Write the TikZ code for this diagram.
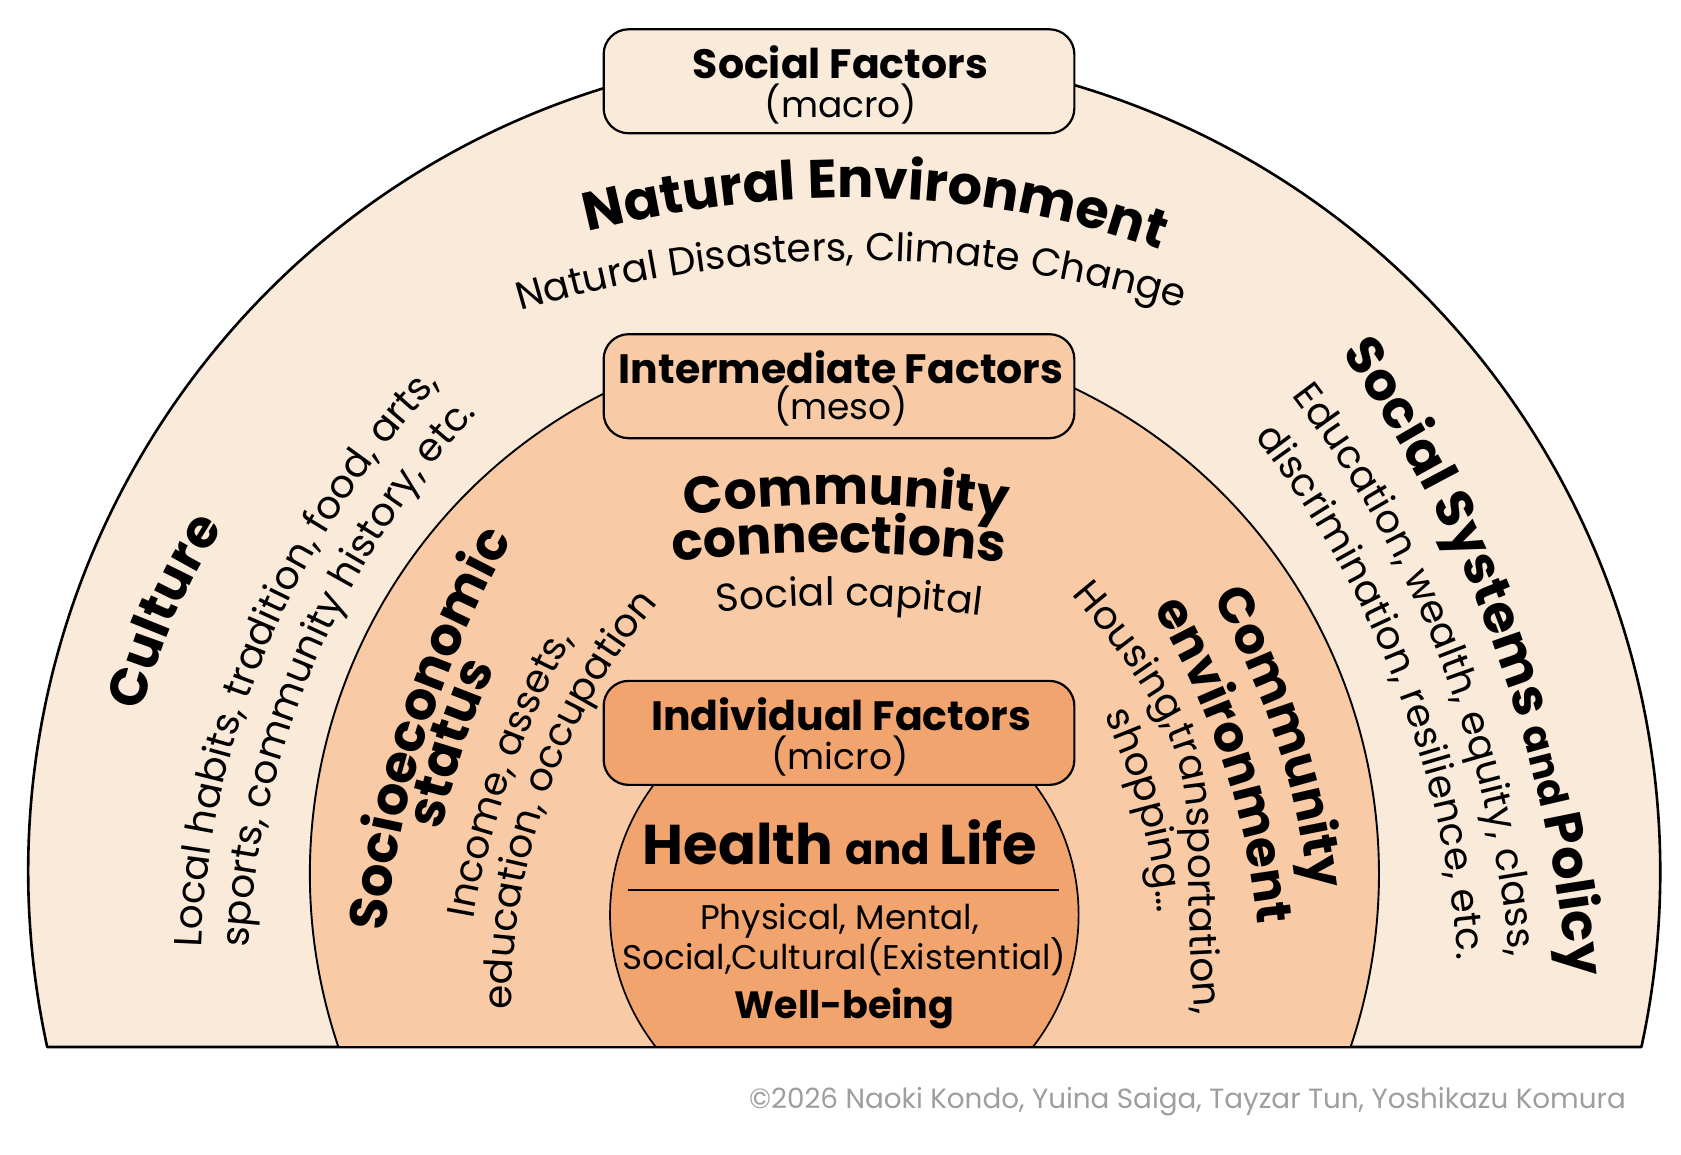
\documentclass[tikz,border=0pt]{standalone}
\usepackage{fontspec}
\setmainfont{Poppins}
\usetikzlibrary{decorations.text,calc}
\definecolor{cOut}{RGB}{250,234,218}
\definecolor{cMid}{RGB}{248,203,166}
\definecolor{cIn}{RGB}{242,164,110}
\definecolor{cGray}{RGB}{158,158,158}
\newcommand\FtHead{\fontsize{52.5}{62}\selectfont\bfseries}
\newcommand\FtNE{\fontsize{54}{64}\selectfont\bfseries}
\newcommand\FtCE{\fontsize{50}{60}\selectfont\bfseries}
\newcommand\FtCC{\fontsize{52}{62}\selectfont\bfseries}
\newcommand\FtAnd{\fontsize{40}{48}\selectfont\bfseries}
\newcommand\FtSub{\fontsize{39}{47}\selectfont}
\newcommand\FtTitle{\fontsize{41}{50}\selectfont\bfseries}
\newcommand\FtParen{\fontsize{36}{44}\selectfont}
\newcommand\FtHealth{\fontsize{56}{66}\selectfont\bfseries}
\newcommand\FtHAnd{\fontsize{42}{50}\selectfont\bfseries}
\newcommand\FtBody{\fontsize{34.2}{42}\selectfont}
\newcommand\FtWell{\fontsize{38}{46}\selectfont\bfseries}
\newcommand\FtCopy{\fontsize{27.8}{32}\selectfont}
\newcommand\ArcText[6][0.87]{%
  \path[decorate, decoration={text along path, text align=center, text={#6}}]
    ($(#2)+(#4+180:90)$) -- (#2) to[out=#4, in=#5, looseness=#1] (#3) -- ($(#3)+(#5+180:90)$);}
\tikzset{
  fbox/.style={draw, line width=2.2pt, rounded corners=25pt, minimum width=470.7pt,
    minimum height=104pt, inner sep=0pt},
  lbl/.style={anchor=base, inner sep=0pt}
}
\begin{document}
\begin{tikzpicture}[x=1pt,y=1pt]
\useasboundingbox (0,0) rectangle (1681,1154);
\fill[white] (0,0) rectangle (1681,1154);
% nested arches
\draw[fill=cOut, line width=2.6pt, line join=round] (47.2,107) arc[start angle=192.34, end angle=-12.34, x radius=816, y radius=820] -- cycle;
\draw[fill=cMid, line width=1.9pt, line join=round] (338.4,107) arc[start angle=198.76, end angle=-18.76, x radius=534.5, y radius=538] -- cycle;
\draw[fill=cIn, line width=1.7pt, line join=round] (655.8,107) arc[start angle=216.42, end angle=-36.42, x radius=234.3, y radius=223] -- cycle;
% boxes
\node[fbox, fill=cOut] (boxS) at (839,1072.7) {};
\node[fbox, fill=cMid] (boxM) at (839,767.8) {};
\node[fbox, fill=cIn] (boxI) at (839,421.1) {};
\node[lbl, font=\FtTitle] (tS) at (840.4,1075) {Social Factors};
\node[lbl, font=\FtParen] (sS) at (841,1036.7) {(macro)};
\node[lbl, font=\FtTitle] (tM) at (841,770.7) {Intermediate Factors};
\node[lbl, font=\FtParen] (sM) at (841,734) {(meso)};
\node[lbl, font=\FtTitle] (tI) at (841,423) {Individual Factors};
\node[lbl, font=\FtParen] (sI) at (840,384) {(micro)};
% centre
\node[lbl] (hl) at (840,289) {\FtHealth Health \FtHAnd and \FtHealth Life};
\coordinate (hlA) at (627.9,264);
\coordinate (hlB) at (1059.3,264);
\draw[line width=1.2pt] (hlA) -- (hlB);
\node[lbl, font=\FtBody] (b1) at (839.5,224) {Physical, Mental,};
\node[lbl, font=\FtBody] (b2) at (844.5,184) {Social,Cultural(Existential)};
\node[lbl, font=\FtWell] (b3) at (844.5,135.7) {Well-being};
% curved texts: top
\ArcText{587.7,922.3}{1160.3,903.7}{14}{160}{|\FtNE|Natural Environment}
\ArcText{510,840}{1191.8,842}{17}{162}{|\FtSub|Natural Disasters, Climate Change}
\ArcText{683.2,638}{1010,637.3}{8}{172}{|\FtCC|Community}
\ArcText{670.7,592.3}{1006.4,590.7}{6.5}{173.5}{|\FtCC|connections}
\ArcText{720.7,541.3}{977.9,539}{7}{173}{|\FtSub|Social capital}
% left
\ArcText{143.2,445.9}{221.2,623.4}{75}{237}{|\FtHead|Culture}
\ArcText{201.2,206.2}{440,769.9}{88}{226}{|\FtSub|Local habits, tradition, food, arts,}
\ArcText{248.4,206.2}{477.7,741}{87}{227}{|\FtSub|sports, community history, etc.}
\ArcText{386.3,228.4}{509.6,610.1}{84}{241}{|\FtHead|Socioeconomic}
\ArcText{443,330.7}{492.2,479.4}{77}{246}{|\FtHead|status}
\ArcText{472.7,231.8}{574.3,518.1}{80}{241}{|\FtSub|Income, assets,}
\ArcText{511.6,149.7}{655,547}{90}{230}{|\FtSub|education, occupation}
% right
\ArcText{1340.4,802.4}{1567.9,175.7}{-55}{95}{|\FtHead|Social Systems |\FtAnd|and |\FtHead|Policy}
\ArcText{1297.9,750.6}{1508.7,207.3}{-53}{96}{|\FtSub|Education, wealth, equity, class,}
\ArcText{1259,712.3}{1457,200.5}{-53}{94}{|\FtSub|discrimination, resilience, etc.}
\ArcText{1212.8,554.5}{1309,265.9}{-60}{97}{|\FtCE|Community}
\ArcText{1155.4,540.9}{1257.2,234.3}{-60}{96}{|\FtCE|environment}
\ArcText[1.4]{1072.2,559}{1195,139}{-50}{95}{|\FtSub|Housing,transportation,}
\ArcText{1105.5,437.2}{1157.3,243.4}{-66}{94}{|\FtSub|shopping…}
% credit
\node[anchor=base east, inner sep=0pt, text=cGray, font=\FtCopy] (copy) at (1626,46) {©2026 Naoki Kondo, Yuina Saiga, Tayzar Tun, Yoshikazu Komura};
\end{tikzpicture}
\end{document}
